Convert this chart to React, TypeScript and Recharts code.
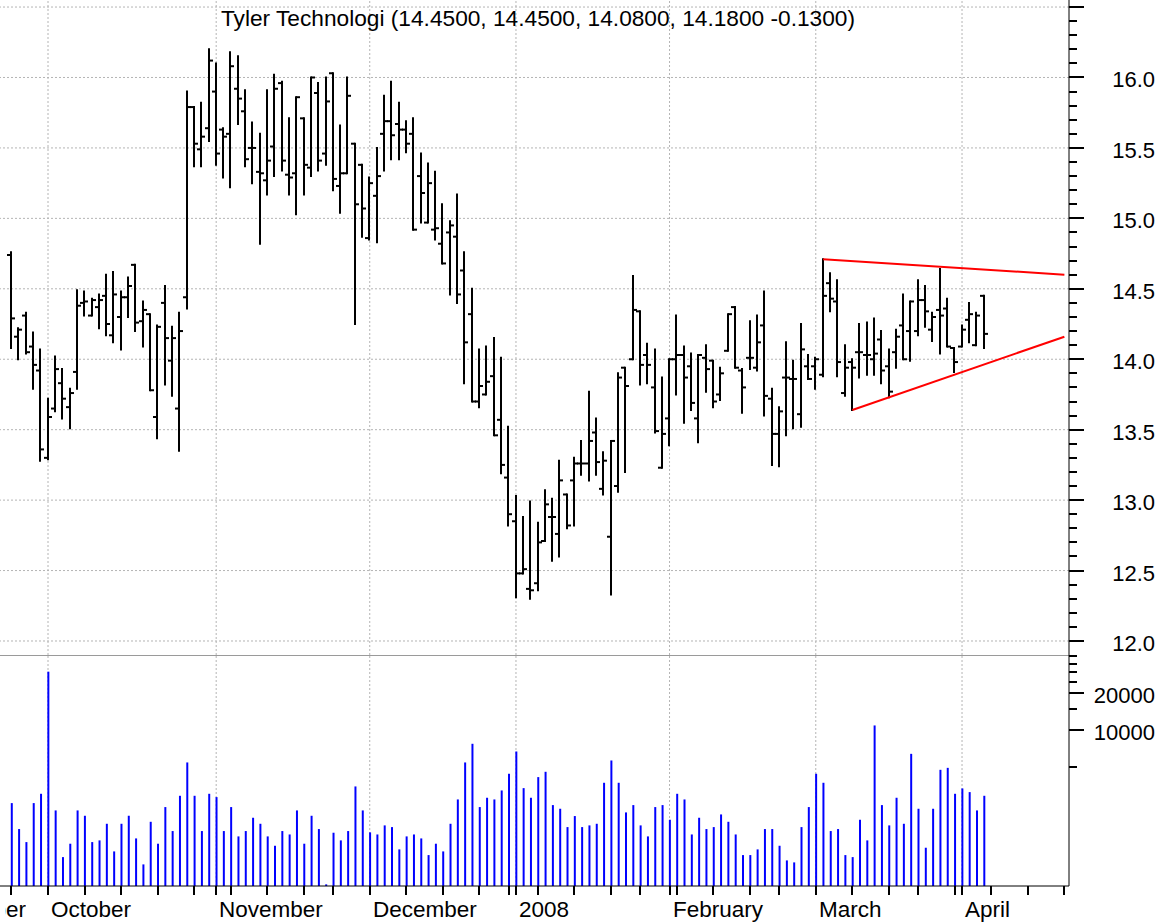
import React from "react";
import { ComposedChart, Bar, XAxis, YAxis, ReferenceLine } from "recharts";

// daily bars, 24 Sep 2007 .. 4 Apr 2008 (index = trading day)
const opens = [
  14.74, 14.16, 14.31, 14.09, 13.92, 13.3, 13.65, 13.83, 13.66, 13.91,
  14.4, 14.31, 14.37, 14.45, 14.17, 14.3, 14.44, 14.67, 14.27, 14.32,
  13.59, 14.4, 13.99, 13.65, 14.44, 15.79, 15.49, 15.64, 15.9, 15.63,
  15.6, 15.92, 15.76, 15.5, 15.33, 15.27, 15.51, 15.96, 15.31, 15.32,
  15.71, 15.36, 15.89, 15.46, 16.03, 15.23, 15.32, 15.53, 15.38, 14.86,
  15.16, 15.6, 15.69, 15.67, 15.63, 15.6, 15.3, 14.97, 14.92, 14.82,
  14.9, 14.87, 14.63, 14.32, 13.7, 13.75, 13.88, 13.57, 13.16, 12.85,
  12.48, 12.37, 12.41, 12.71, 12.88, 12.76, 13.04, 13.14, 13.26, 13.26,
  13.48, 13.08, 12.74, 13.1, 13.94, 14.0, 14.34, 14.03, 13.8, 13.23,
  13.58, 14.0, 14.03, 13.95, 13.58, 14.01, 13.99, 13.75, 14.06, 14.37,
  13.92, 14.01, 13.94, 14.24, 13.72, 13.47, 13.87, 13.86, 13.61, 13.95,
  13.95, 13.89, 14.54, 14.41, 13.76, 13.98, 14.05, 14.03, 14.0, 14.14,
  13.95, 14.05, 14.24, 14.2, 14.2, 14.42, 14.21, 14.35, 14.36, 14.08,
  14.09, 14.28, 14.1, 14.45,
];
const highs = [
  14.76, 14.22, 14.33, 14.19, 14.07, 13.72, 14.02, 13.93, 13.79, 14.49,
  14.48, 14.43, 14.46, 14.6, 14.62, 14.48, 14.58, 14.67, 14.41, 14.32,
  14.24, 14.52, 14.23, 14.33, 15.9, 15.79, 15.82, 16.2, 16.1, 15.64,
  16.18, 16.15, 15.91, 15.68, 15.6, 15.91, 16.02, 15.97, 15.71, 15.86,
  15.71, 16.0, 15.96, 16.0, 16.03, 15.66, 16.0, 15.53, 15.38, 15.29,
  15.5, 15.87, 15.97, 15.82, 15.69, 15.71, 15.46, 15.39, 15.33, 15.1,
  14.98, 15.17, 14.76, 14.5, 14.07, 14.09, 14.15, 14.01, 13.52, 13.03,
  12.88, 12.99, 12.84, 13.07, 13.01, 13.28, 13.04, 13.3, 13.42, 13.77,
  13.58, 13.34, 13.42, 13.9, 13.94, 14.59, 14.34, 14.11, 14.07, 13.87,
  14.0, 14.31, 14.09, 14.04, 14.03, 14.1, 13.99, 13.94, 14.32, 14.37,
  13.93, 14.27, 14.31, 14.48, 13.79, 13.66, 14.12, 13.99, 14.25, 14.03,
  14.01, 14.71, 14.61, 14.56, 14.1, 14.0, 14.25, 14.26, 14.29, 14.2,
  14.07, 14.21, 14.46, 14.41, 14.56, 14.52, 14.33, 14.64, 14.43, 14.08,
  14.24, 14.4, 14.33, 14.45,
];
const lows = [
  14.08, 14.0, 14.04, 13.79, 13.28, 13.29, 13.63, 13.58, 13.51, 13.79,
  14.31, 14.31, 14.22, 14.17, 14.12, 14.07, 14.3, 14.2, 14.09, 13.78,
  13.44, 13.82, 13.74, 13.35, 14.36, 15.37, 15.37, 15.55, 15.38, 15.29,
  15.22, 15.67, 15.37, 15.25, 14.82, 15.17, 15.3, 15.34, 15.17, 15.03,
  15.17, 15.3, 15.34, 15.38, 15.2, 15.04, 15.32, 14.25, 14.87, 14.85,
  14.83, 15.34, 15.42, 15.42, 15.47, 14.92, 14.97, 14.97, 14.85, 14.68,
  14.46, 14.4, 13.83, 13.7, 13.66, 13.75, 13.46, 13.19, 12.82, 12.31,
  12.48, 12.3, 12.36, 12.71, 12.57, 12.6, 12.8, 12.82, 13.18, 13.14,
  13.18, 13.04, 12.33, 13.06, 13.2, 14.0, 13.82, 13.83, 13.48, 13.23,
  13.39, 13.75, 13.55, 13.64, 13.41, 13.77, 13.66, 13.71, 14.06, 13.94,
  13.62, 13.93, 13.92, 13.6, 13.25, 13.24, 13.46, 13.51, 13.52, 13.86,
  13.79, 13.88, 14.34, 13.88, 13.74, 13.64, 13.87, 13.89, 13.89, 13.83,
  13.73, 13.94, 14.0, 13.99, 14.17, 14.23, 14.13, 14.04, 14.09, 13.91,
  14.09, 14.12, 14.1, 14.08,
];
const closes = [
  14.29, 14.21, 14.05, 13.96, 13.36, 13.59, 13.93, 13.72, 13.76, 14.38,
  14.41, 14.42, 14.42, 14.25, 14.46, 14.44, 14.52, 14.26, 14.35, 13.78,
  14.23, 14.15, 14.15, 14.2, 15.79, 15.53, 15.58, 16.12, 15.46, 15.58,
  16.08, 15.85, 15.42, 15.5, 15.32, 15.41, 15.92, 15.41, 15.29, 15.86,
  15.38, 16.0, 15.41, 15.83, 15.28, 15.32, 15.87, 15.1, 15.07, 15.25,
  15.3, 15.69, 15.59, 15.63, 15.53, 14.92, 15.18, 15.25, 14.93, 14.68,
  14.95, 14.46, 14.12, 13.7, 13.81, 13.84, 13.46, 13.25, 12.9, 12.48,
  12.51, 12.36, 12.7, 12.97, 12.88, 13.14, 12.82, 13.26, 13.26, 13.42,
  13.27, 13.28, 13.42, 13.87, 13.81, 14.35, 13.96, 13.96, 13.49, 13.47,
  14.0, 14.03, 13.87, 13.69, 14.03, 13.93, 13.7, 13.9, 14.32, 13.94,
  13.8, 14.01, 14.12, 13.74, 13.47, 13.63, 13.87, 13.86, 14.07, 13.86,
  14.0, 14.45, 14.43, 13.98, 13.94, 13.94, 14.05, 14.03, 14.04, 13.92,
  13.77, 14.16, 14.0, 14.41, 14.42, 14.34, 14.3, 14.31, 14.09, 13.98,
  14.21, 14.32, 14.31, 14.18,
];
const volumes = [
  2566, 1578, 1236, 2566, 3055, 30100, 2237, 933, 1199, 2237,
  2024, 1236, 1276, 1742, 1038, 1742, 2024, 1324, 814, 1808,
  1199, 2382, 1520, 2943, 5495, 2943, 1520, 3055, 2871, 1520,
  2382, 1375, 1520, 1950, 1742, 1375, 1154, 1520, 1426, 2237,
  1199, 2024, 1578, 560, 1473, 1276, 1520, 3506, 2237, 1483,
  1426, 1690, 1637, 1078, 1375, 1426, 1324, 969, 1199, 1038,
  1742, 2748, 5495, 7795, 2382, 2836, 2748, 3252, 4445, 6749,
  3397, 2836, 4176, 4613, 2472, 2308, 1637, 2013, 1637, 1690,
  1742, 3755, 5702, 3755, 2155, 2472, 1690, 1375, 2382, 2472,
  1878, 3055, 2748, 1426, 1950, 1578, 1637, 2075, 1808, 1426,
  969, 969, 1078, 1578, 1578, 1154, 877, 845, 1637, 2382,
  4445, 3755, 1520, 1578, 969, 933, 1878, 1276, 10990, 2472,
  1690, 2836, 1742, 6457, 2308, 1112, 2308, 4787, 4966, 3055,
  3377, 3153, 2237, 2943,
];

const monthStarts = [5, 28, 49, 69, 90, 110, 130];
const monthLabels = ["October", "November", "December", "2008", "February", "March", "April"];
const weekStarts = [
  0, 5, 10, 15, 20, 25, 30, 35, 40, 44, 49, 54, 59, 64, 68, 72, 77, 82, 86, 91,
  96, 101, 105, 110, 115, 120, 124, 129, 134, 139, 144,
];
const priceLabels = ["12.0", "12.5", "13.0", "13.5", "14.0", "14.5", "15.0", "15.5", "16.0"];
const priceGrid = [12.0, 12.5, 13.0, 13.5, 14.0, 14.5, 15.0, 15.5, 16.0, 16.5];
const volumeTicks = [5000, 10000, 15000, 20000, 25000, 30000, 35000, 40000];
const volumeLabels = [10000, 20000];

const upperTrend = [
  { x: 111, y: 14.71 },
  { x: 144, y: 14.6 },
];
const lowerTrend = [
  { x: 115, y: 13.64 },
  { x: 144, y: 14.16 },
];

const title = "Tyler Technologi (14.4500, 14.4500, 14.0800, 14.1800 -0.1300)";

const FONT = "'Liberation Sans', Arial, sans-serif";
const X_DOMAIN: [number, number] = [-1.565, 144.63];
const PRICE_DOMAIN: [number, number] = [11.9006, 16.55];
const VOL_DOMAIN: [number, number] = [543, 41130];
const GRID = "#b4b4b4";
const W = 1170;
const PRICE_H = 655;
const VOL_H = 269;

const rows = opens.map((o, i) => ({
  i,
  open: o,
  high: highs[i],
  low: lows[i],
  close: closes[i],
  vol: volumes[i],
}));

const dateTicks = Array.from(new Set([...weekStarts, ...monthStarts])).sort((a, b) => a - b);
const priceTicks = Array.from({ length: 46 }, (_, k) => Math.round(120 + k) / 10);

function OhlcBar(props: any) {
  const { x, y, width, height, payload } = props;
  if (x == null || y == null) return null;
  const top = Math.min(y, y + height);
  const h = Math.abs(height);
  const cx = Math.round(x + width / 2);
  const span = payload.high - payload.low || 1;
  const at = (v: number) => top + ((payload.high - v) / span) * h;
  return (
    <g stroke="#000" strokeWidth={2}>
      <line x1={cx} x2={cx} y1={top - 1} y2={top + h + 1} />
      <line x1={cx - 4} x2={cx} y1={at(payload.open)} y2={at(payload.open)} />
      <line x1={cx} x2={cx + 4} y1={at(payload.close)} y2={at(payload.close)} />
    </g>
  );
}

function PriceTick(props: any) {
  const { x, y, payload } = props;
  const v: number = payload.value;
  const major = Math.abs(v * 2 - Math.round(v * 2)) < 1e-6;
  const label = priceLabels.find((l) => Math.abs(parseFloat(l) - v) < 1e-6);
  const yy = Math.round(y);
  return (
    <g>
      <line x1={x} x2={x + (major ? 15 : 8)} y1={yy} y2={yy} stroke="#000" strokeWidth={2} />
      {label && (
        <text x={1155} y={yy + 10} textAnchor="end" fontSize={22} fontFamily={FONT} fill="#000">
          {label}
        </text>
      )}
    </g>
  );
}

function VolumeTick(props: any) {
  const { x, y, payload } = props;
  const v: number = payload.value;
  const major = volumeLabels.includes(v);
  const yy = Math.round(y);
  return (
    <g>
      <line x1={x} x2={x + (major ? 15 : 8)} y1={yy} y2={yy} stroke="#000" strokeWidth={2} />
      {major && (
        <text x={1155} y={yy + 10} textAnchor="end" fontSize={22} fontFamily={FONT} fill="#000">
          {String(v)}
        </text>
      )}
    </g>
  );
}

function DateTick(props: any) {
  const { x, y, payload } = props;
  const m = monthStarts.indexOf(payload.value);
  const xx = Math.round(x);
  return (
    <g>
      <line x1={xx} x2={xx} y1={y} y2={y + 9} stroke="#000" strokeWidth={2} />
      {m >= 0 && (
        <text x={xx + 3} y={y + 31} fontSize={22.5} fontFamily={FONT} fill="#000">
          {monthLabels[m]}
        </text>
      )}
    </g>
  );
}

const layer: React.CSSProperties = { position: "absolute", left: 0, top: 0 };

export default function App() {
  return (
    <div
      style={{
        position: "absolute",
        left: 0,
        top: 0,
        width: W,
        height: 924,
        background: "#fff",
        fontFamily: FONT,
        overflow: "hidden",
      }}
    >
      {/* price panel: grid behind, bars on top */}
      <div style={layer}>
        <ComposedChart width={W} height={PRICE_H} data={rows} margin={{ top: 0, right: 0, bottom: 0, left: 0 }}>
          <XAxis type="number" dataKey="i" domain={X_DOMAIN} allowDataOverflow hide />
          <YAxis orientation="right" width={101} domain={PRICE_DOMAIN} allowDataOverflow tick={false} axisLine={false} tickLine={false} />
          {priceGrid.map((v) => (
            <ReferenceLine key={"h" + v} y={v} stroke={GRID} strokeDasharray="2 2" />
          ))}
          {monthStarts.map((m) => (
            <ReferenceLine key={"v" + m} x={m} stroke={GRID} strokeDasharray="2 2" />
          ))}
        </ComposedChart>
      </div>
      <div style={layer}>
        <ComposedChart width={W} height={PRICE_H} data={rows} margin={{ top: 0, right: 0, bottom: 0, left: 0 }}>
          <XAxis type="number" dataKey="i" domain={X_DOMAIN} allowDataOverflow hide />
          <YAxis
            orientation="right"
            width={101}
            domain={PRICE_DOMAIN}
            allowDataOverflow
            ticks={priceTicks}
            interval={0}
            tickSize={0}
            tickMargin={0}
            tickLine={false}
            axisLine={{ stroke: "#000" }}
            tick={<PriceTick />}
          />
          <Bar
            dataKey={(d: any) => [d.low, d.high]}
            barSize={8}
            shape={<OhlcBar />}
            isAnimationActive={false}
          />
          <ReferenceLine segment={upperTrend} stroke="#ff0000" strokeWidth={2} ifOverflow="visible" />
          <ReferenceLine segment={lowerTrend} stroke="#ff0000" strokeWidth={2} ifOverflow="visible" />
        </ComposedChart>
      </div>

      <div style={{ position: "absolute", left: 0, top: PRICE_H, width: 1069, height: 1, background: "#9a9a9a" }} />

      {/* volume panel */}
      <div style={{ ...layer, top: PRICE_H }}>
        <ComposedChart width={W} height={VOL_H} data={rows} margin={{ top: 0, right: 0, bottom: 0, left: 0 }}>
          <XAxis type="number" dataKey="i" domain={X_DOMAIN} allowDataOverflow height={38} tick={false} axisLine={false} tickLine={false} />
          <YAxis orientation="right" width={101} scale="log" domain={VOL_DOMAIN} allowDataOverflow tick={false} axisLine={false} tickLine={false} />
          {monthStarts.map((m) => (
            <ReferenceLine key={"vv" + m} x={m} stroke={GRID} strokeDasharray="2 2" />
          ))}
        </ComposedChart>
      </div>
      <div style={{ ...layer, top: PRICE_H }}>
        <ComposedChart width={W} height={VOL_H} data={rows} margin={{ top: 0, right: 0, bottom: 0, left: 0 }}>
          <XAxis
            type="number"
            dataKey="i"
            domain={X_DOMAIN}
            allowDataOverflow
            ticks={dateTicks}
            interval={0}
            height={38}
            tickSize={0}
            tickMargin={0}
            tickLine={false}
            axisLine={{ stroke: "#000" }}
            tick={<DateTick />}
          />
          <YAxis
            orientation="right"
            width={101}
            scale="log"
            domain={VOL_DOMAIN}
            allowDataOverflow
            ticks={volumeTicks}
            interval={0}
            tickSize={0}
            tickMargin={0}
            tickLine={false}
            axisLine={{ stroke: "#000" }}
            tick={<VolumeTick />}
          />
          <Bar dataKey="vol" barSize={2} fill="#0000ff" isAnimationActive={false} />
        </ComposedChart>
      </div>

      <div
        style={{
          position: "absolute",
          left: 5,
          top: 897,
          width: 21,
          height: 26,
          overflow: "hidden",
          display: "flex",
          justifyContent: "flex-end",
          whiteSpace: "nowrap",
          fontSize: 22.5,
          lineHeight: "26px",
        }}
      >
        <span>September</span>
      </div>

      <div
        style={{
          position: "absolute",
          left: 0,
          top: 5,
          width: 1076,
          textAlign: "center",
          fontSize: 22.7,
          lineHeight: "26px",
          whiteSpace: "nowrap",
        }}
      >
        {title}
      </div>
    </div>
  );
}
